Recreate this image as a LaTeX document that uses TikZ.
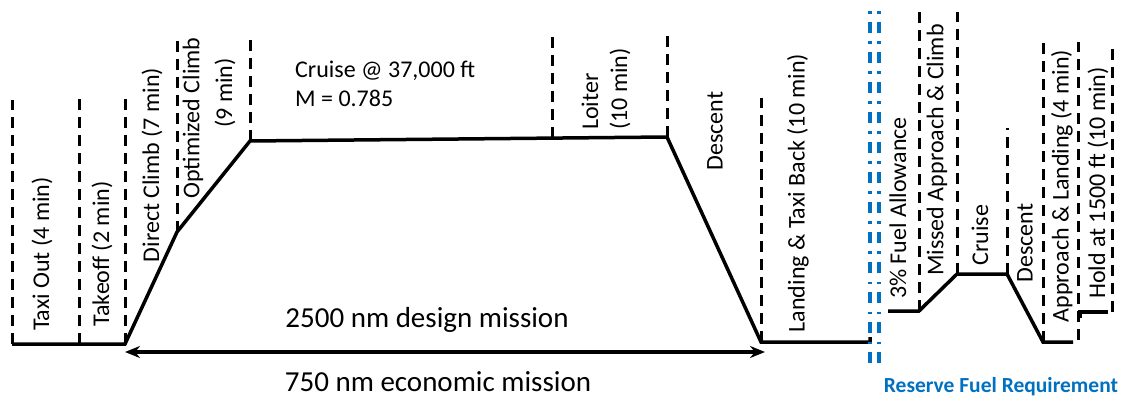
\documentclass[tikz,border=0pt]{standalone}
\usepackage{fontspec}
\setmainfont{Carlito}
\usetikzlibrary{arrows.meta}
\definecolor{resblue}{RGB}{0,112,192}

\tikzset{
  profile/.style={line width=3.5pt, line join=miter},
  phase/.style={line width=3pt, dash pattern=on 11pt off 7pt},
  reserve/.style={resblue, line width=3.2pt, dash pattern=on 11pt off 8pt on 2.5pt off 8.5pt},
  lbl/.style={rotate=90, inner sep=0pt, font=\fontsize{24}{29}\selectfont},
  big/.style={inner sep=0pt, font=\fontsize{29}{35}\selectfont}
}

\begin{document}
\begin{tikzpicture}[x=1pt, y=1pt]
\useasboundingbox (0,0) rectangle (1127,402);

% design mission profile
\coordinate (taxi) at (12,58);
\coordinate (take) at (79,58);
\coordinate (dclimb) at (125,58);
\coordinate (oclimb) at (177,170);
\coordinate (cruise) at (250,261);
\coordinate (loiter) at (552,264);
\coordinate (descent) at (667,265);
\coordinate (land) at (761,60);
\coordinate (landend) at (870,60);

\draw[profile] (taxi) -- (dclimb) -- (oclimb) -- (cruise) -- (descent) -- (land) -- (landend) -- ++(0,5);
\foreach \p/\h in {taxi/302, take/304, dclimb/303, oclimb/367, cruise/367, loiter/367, descent/367, land/304}
  \draw[phase] (\p) -- (\p |- 0,\h);

% reserve profile
\coordinate (fuel) at (888,91);
\coordinate (missed) at (919,91);
\coordinate (rcruise) at (957,128);
\coordinate (rdescent) at (1007,128);
\coordinate (appr) at (1043,60);
\coordinate (apprend) at (1073,60);
\coordinate (apprsep) at (1078,62);
\coordinate (hold) at (1080,84);
\coordinate (holdend) at (1108,90);
\coordinate (holdsep) at (1112,90);

\draw[profile] (fuel) -- (missed) -- (rcruise) -- (rdescent) -- (appr) -- (apprend);
\draw[profile] (hold) |- (holdend);
\foreach \p/\h in {missed/390, rcruise/390, rdescent/274, appr/362, apprsep/360, holdsep/354}
  \draw[phase] (\p) -- (\p |- 0,\h);

% separator
\foreach \x in {870,879}
  \draw[reserve] (\x,39) -- (\x,397);

% range arrow
\coordinate (rangeL) at (125,50);
\coordinate (rangeR) at (765,50);
\draw[line width=3.2pt, {Stealth[length=15pt,width=12pt]}-{Stealth[length=15pt,width=12pt]}] (rangeL) -- (rangeR);

% labels
\node[lbl] (taxilbl) at (42,148) {Taxi Out (4 min)};
\node[lbl] (takelbl) at (102,148) {Takeoff (2 min)};
\node[lbl] (dclimblbl) at (152,237) {Direct Climb (7 min)};
\node[lbl] (oclimblbl) at (193,284) {Optimized Climb};
\node[lbl] (oclimbtime) at (225,309) {(9 min)};
\node[inner sep=0pt, anchor=north west, align=left, font=\fontsize{24}{29}\selectfont] (cruiselbl) at (295,341) {Cruise @ 37,000 ft\\M = 0.785};
\node[lbl, anchor=west, align=left] (loiterlbl) at (606,272) {Loiter\\(10 min)};
\node[lbl] (descentlbl) at (715,271) {Descent};
\node[lbl] (landlbl) at (798,209) {Landing \& Taxi Back (10 min)};

\node[lbl] (fuellbl) at (898,194) {3\% Fuel Allowance};
\node[lbl] (missedlbl) at (937,252) {Missed Approach \& Climb};
\node[lbl] (rcruiselbl) at (980,167) {Cruise};
\node[lbl] (rdescentlbl) at (1025,159) {Descent};
\node[lbl] (apprlbl) at (1062,216) {Approach \& Landing (4 min)};
\node[lbl] (holdlbl) at (1098,219) {Hold at 1500 ft (10 min)};

\node[big] (designlbl) at (427,82) {2500 nm design mission};
\node[big] (econlbl) at (438,20) {750 nm economic mission};
\node[inner sep=0pt, text=resblue, font=\bfseries\fontsize{21.5}{25}\selectfont] (reservelbl) at (1001,15) {Reserve Fuel Requirement};
\end{tikzpicture}
\end{document}
